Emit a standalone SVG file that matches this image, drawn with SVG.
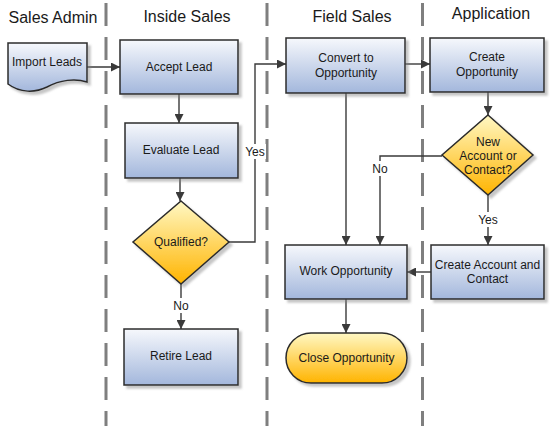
<svg xmlns="http://www.w3.org/2000/svg" width="552" height="426" viewBox="0 0 552 426">
<defs>
<linearGradient id="gBlue" x1="0" y1="0" x2="0" y2="1">
<stop offset="0" stop-color="#f6f8fc"/>
<stop offset="1" stop-color="#a3b7dc"/>
</linearGradient>
<linearGradient id="gYel" x1="0" y1="0" x2="0" y2="1">
<stop offset="0" stop-color="#fff8c4"/>
<stop offset="1" stop-color="#ffb400"/>
</linearGradient>
<filter id="sh" x="-10%" y="-10%" width="130%" height="130%">
<feDropShadow dx="3" dy="3" stdDeviation="1" flood-color="#808080" flood-opacity="0.45"/>
</filter>
<marker id="ah" viewBox="0 0 10 10" refX="10" refY="5" markerWidth="9" markerHeight="9" markerUnits="userSpaceOnUse" orient="auto">
<path d="M0,0 L10,5 L0,10 Z" fill="#3a3a3a"/>
</marker>
<style>
.lane{stroke:#7f7f7f;stroke-width:3;stroke-dasharray:23 11;fill:none}
.title{font-family:"Liberation Sans",Arial,sans-serif;font-size:16px;fill:#1a1a1a;text-anchor:middle}
.box{fill:url(#gBlue);stroke:#2b2b2b;stroke-width:1.5;filter:url(#sh)}
.dec{fill:url(#gYel);stroke:#2b2b2b;stroke-width:1.5;filter:url(#sh)}
.t{font-family:"Liberation Sans",Arial,sans-serif;font-size:12px;fill:#1a1a1a;text-anchor:middle}
.c{stroke:#3a3a3a;stroke-width:1.4;fill:none;marker-end:url(#ah)}
.lbl{font-family:"Liberation Sans",Arial,sans-serif;font-size:12px;fill:#1a1a1a;text-anchor:middle}
</style>
</defs>
<rect width="552" height="426" fill="#ffffff"/>
<g id="lanes">
<line class="lane" x1="106" y1="3" x2="106" y2="426"/>
<line class="lane" x1="267" y1="3" x2="267" y2="426"/>
<line class="lane" x1="422.5" y1="3" x2="422.5" y2="426"/>
<text class="title" x="53" y="23">Sales Admin</text>
<text class="title" x="187" y="22">Inside Sales</text>
<text class="title" x="352" y="22">Field Sales</text>
<text class="title" x="491" y="19">Application</text>
</g>
<g id="connectors">
<path class="c" d="M87,67 H120"/>
<path class="c" d="M179,94 V123"/>
<path class="c" d="M180,178 V201"/>
<path class="c" d="M229,242 H255 V64 H286"/>
<path class="c" d="M181,284 V329"/>
<path class="c" d="M405,64 H430"/>
<path class="c" d="M488,92 V115"/>
<path class="c" d="M442,156 H380 V245"/>
<path class="c" d="M346,93 V245"/>
<path class="c" d="M488,195 V245"/>
<path class="c" d="M431,272 H407"/>
<path class="c" d="M346,299 V333"/>
<rect x="244" y="144" width="22" height="15" fill="#ffffff"/>
<text class="lbl" x="255" y="156">Yes</text>
<rect x="171" y="298" width="20" height="15" fill="#ffffff"/>
<text class="lbl" x="181" y="310">No</text>
<rect x="370" y="161" width="20" height="15" fill="#ffffff"/>
<text class="lbl" x="380" y="173">No</text>
<rect x="477" y="212" width="22" height="15" fill="#ffffff"/>
<text class="lbl" x="488" y="224">Yes</text>
</g>
<g id="importLeads">
<path class="box" d="M8,43 H87 V82 C75,78 60,80 47,87 C35,93 20,93 8,84 Z"/>
<text class="t" x="47" y="66">Import Leads</text>
</g>
<g id="acceptLead">
<rect class="box" x="120" y="40" width="118" height="54"/>
<text class="t" x="179" y="71">Accept Lead</text>
</g>
<g id="evaluateLead">
<rect class="box" x="125" y="123" width="113" height="55"/>
<text class="t" x="181" y="154">Evaluate Lead</text>
</g>
<g id="qualified">
<path class="dec" d="M181,201 L229,242 L181,284 L133,242 Z"/>
<text class="t" x="181" y="246">Qualified?</text>
</g>
<g id="retireLead">
<rect class="box" x="124" y="329" width="114" height="56"/>
<text class="t" x="181" y="360">Retire Lead</text>
</g>
<g id="convertOpp">
<rect class="box" x="286" y="38" width="119" height="55"/>
<text class="t" x="346" y="62">Convert to</text>
<text class="t" x="346" y="77">Opportunity</text>
</g>
<g id="createOpp">
<rect class="box" x="430" y="38" width="114" height="54"/>
<text class="t" x="487" y="61">Create</text>
<text class="t" x="487" y="76">Opportunity</text>
</g>
<g id="newAccount">
<path class="dec" d="M488,115 L533,155 L488,195 L442,155 Z"/>
<text class="t" x="488" y="146">New</text>
<text class="t" x="488" y="160">Account or</text>
<text class="t" x="488" y="174">Contact?</text>
</g>
<g id="workOpp">
<rect class="box" x="285" y="245" width="122" height="54"/>
<text class="t" x="346" y="275">Work Opportunity</text>
</g>
<g id="createAccount">
<rect class="box" x="431" y="245" width="113" height="54"/>
<text class="t" x="487.5" y="269">Create Account and</text>
<text class="t" x="487.5" y="283">Contact</text>
</g>
<g id="closeOpp">
<rect class="dec" x="286" y="333" width="121" height="50" rx="25" ry="25"/>
<text class="t" x="346.5" y="362">Close Opportunity</text>
</g>
</svg>
